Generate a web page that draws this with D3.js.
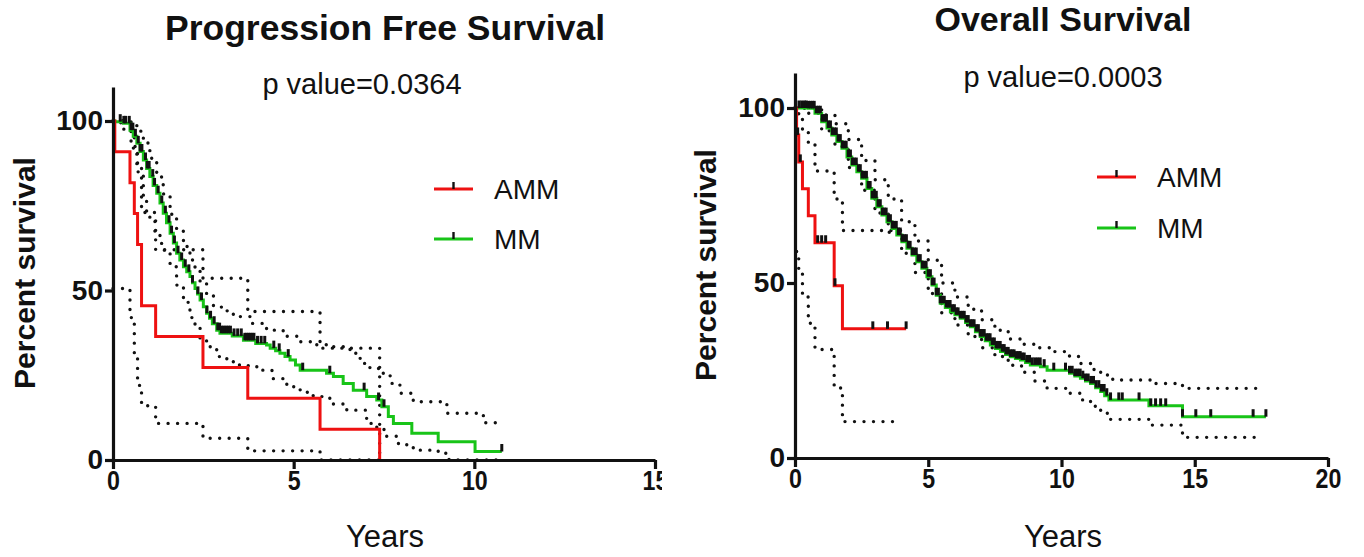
<!DOCTYPE html>
<html><head><meta charset="utf-8">
<script src="https://cdn.jsdelivr.net/npm/d3@7"></script>
<style>body{margin:0;background:#fff}svg{display:block}text{font-family:Arial,"Liberation Sans",Helvetica,sans-serif;fill:#111}</style>
</head><body><svg id="c" width="1364" height="557"></svg>
<script>
// ---------- DATA ----------
const seriesNames = ["AMM", "MM"];
const pfsYearTicks = [0, 5, 10, 15];
const osYearTicks = [0, 5, 10, 15, 20];
const percentTicks = [0, 50, 100];
const pfsTitle = "Progression Free Survival", osTitle = "Overall Survival";
const pfsP = "p value=0.0364", osP = "p value=0.0003";

// Progression free survival: [years, percent]
const pfsAMM = [[0,100],[0.05,90.9],[0.47,81.8],[0.59,72.7],[0.68,63.6],[0.79,45.5],[1.18,36.4],[2.49,27.3],[3.73,18.2],[5.73,9.1],[7.38,0]];
const pfsAMMUpper = [[0,100],[0.05,99.5],[0.47,97],[0.59,92.5],[0.68,86],[0.79,73],[1.18,62],[2.49,53.6],[3.73,43.8],[5.73,33],[7.38,0]];
const pfsAMMLower = [[0,50.6],[0.47,42],[0.59,30],[0.68,22],[0.79,16],[1.18,10.8],[2.49,6.4],[3.73,2.7],[5.73,0],[7.38,0]];
const pfsMM = [[0,100],[0.05,99.8],[0.29,99.3],[0.47,97.3],[0.56,95.5],[0.66,93.4],[0.75,91],[0.84,88.5],[0.93,86],[1.02,83.6],[1.11,81],[1.21,78.7],[1.3,75.8],[1.39,72.8],[1.48,70],[1.58,66.9],[1.67,64],[1.76,61],[1.85,59],[1.95,57],[2.04,55.5],[2.13,54.1],[2.2,52.3],[2.27,50.6],[2.34,49],[2.41,47.2],[2.5,45.2],[2.59,43.3],[2.67,41.8],[2.75,40.2],[2.87,38.3],[2.96,37.4],[3.3,36.6],[3.61,35.3],[3.95,34.4],[4.25,33.9],[4.35,33],[4.5,32.2],[4.62,31.5],[4.76,30.5],[4.9,29.5],[5.05,28],[5.18,26.5],[5.91,25.6],[6.1,24.6],[6.37,22.6],[6.65,20.6],[7.02,18.7],[7.3,17.7],[7.44,15.7],[7.62,12.8],[7.76,10.8],[8.27,7.9],[9.0,5.4],[10.02,2.5],[10.76,2.5]];
const pfsMMUpper = [[0,100],[0.3,100],[0.5,99],[0.66,97],[0.84,93.5],[1.02,89],[1.21,83.5],[1.39,78.5],[1.58,72.5],[1.76,67.5],[1.95,63],[2.13,59],[2.27,56],[2.41,52.5],[2.59,49],[2.78,45.5],[3.0,44],[3.33,42.3],[3.8,40.3],[4.25,38.3],[4.71,36.5],[5.18,34.9],[5.64,34],[6.0,33.4],[6.56,31.5],[6.84,28.5],[7.11,27],[7.39,25.6],[7.67,22.6],[7.94,19.7],[8.31,17.2],[9.24,13.8],[10.25,11],[10.76,11]];
const pfsMMLower = [[0,100],[0.3,97],[0.5,92],[0.66,85],[0.84,76.7],[0.93,73.2],[1.02,70.8],[1.16,66.4],[1.3,63.9],[1.39,61.9],[1.58,57],[1.76,51.6],[1.95,46.5],[2.13,42],[2.27,39],[2.41,36],[2.59,33.4],[2.87,30.5],[3.15,29],[3.5,27.8],[3.98,26.5],[4.4,24],[4.81,21.6],[5.18,20],[5.54,18.7],[6.0,16.5],[6.47,14.7],[7.02,10.8],[7.3,9],[7.57,7],[7.9,4.5],[8.31,2.9],[9.0,2],[9.3,0],[10.76,0]];
const pfsAMMCensor = [];
const pfsMMCensor = [0.2,0.3,0.35,0.45,0.5,0.55,0.62,0.7,0.75,0.8,0.9,0.95,1.0,1.1,1.15,1.25,1.35,1.45,1.55,1.62,1.7,1.8,1.9,2.0,2.1,2.2,2.35,2.45,2.6,2.7,2.8,2.9,2.95,3.0,3.05,3.1,3.15,3.2,3.25,3.35,3.45,3.55,3.65,3.7,3.75,3.8,3.85,3.9,4.0,4.1,4.2,4.45,4.6,4.85,5.25,6.0,6.95,7.35,7.5,10.76];

// Overall survival: [years, percent]
const osAMM = [[0,100],[0.06,92.3],[0.14,84.6],[0.28,76.9],[0.5,69.2],[0.75,61.5],[1.47,49.2],[1.78,36.9],[4.17,36.9]];
const osAMMUpper = [[0,100],[0.06,99.8],[0.14,97.5],[0.28,93.5],[0.5,89.5],[0.75,82],[1.47,74],[1.78,65],[4.17,65]];
const osAMMLower = [[0.06,59],[0.14,53],[0.28,46],[0.5,38.5],[0.75,31],[1.47,20],[1.78,10.4],[3.85,10.4]];
const osMM = [[0,100],[0.5,99.9],[0.75,98.5],[1.0,96.1],[1.2,94.3],[1.38,92.3],[1.57,90.4],[1.76,88.5],[1.95,86],[2.13,83.7],[2.32,81.8],[2.5,79.9],[2.7,77],[2.88,74.2],[3.07,71.8],[3.26,69.4],[3.45,67.5],[3.64,65.6],[3.82,63.7],[4.01,61.8],[4.2,59.9],[4.39,58],[4.57,56.1],[4.76,54.2],[4.95,51.8],[5.14,49.4],[5.3,46.5],[5.45,44.2],[5.64,43],[5.83,41.8],[6.0,40.9],[6.2,39.9],[6.4,38.7],[6.58,37.5],[6.77,36.1],[6.95,34.7],[7.14,33.5],[7.33,32.3],[7.52,31.3],[7.71,30.4],[7.9,29.6],[8.08,28.9],[8.27,28.4],[8.46,28],[8.65,27.3],[8.83,26.6],[9.21,26.1],[9.46,25.1],[10.3,24.2],[10.5,23.4],[10.71,22.8],[10.9,22],[11.09,21.3],[11.28,20.1],[11.47,19],[11.62,17.8],[11.78,16.6],[13.28,14.9],[14.54,11.8],[17.67,11.8]];
const osMMUpper = [[0,100],[0.5,100],[1.0,98],[1.5,95.5],[2.0,91],[2.5,85],[3.0,79.5],[3.5,74],[4.0,67.5],[4.5,62],[5.0,56.5],[5.5,50],[6.0,46],[6.5,42.5],[7.0,39.5],[7.5,36.5],[8.0,34],[8.5,32.5],[9.0,31.5],[9.59,30.4],[10.3,29],[10.71,27],[11.09,25.3],[11.47,23.7],[11.8,22.5],[12.03,22.3],[13.35,21.3],[14.54,19.9],[17.42,19.9]];
const osMMLower = [[0,100],[0.5,98.5],[1.0,93.5],[1.5,89],[2.0,83],[2.5,76.5],[3.0,70],[3.5,64.5],[4.0,58.5],[4.5,53],[5.0,47],[5.5,41.5],[6.0,38],[6.5,34.7],[7.0,31.5],[7.5,29],[8.0,26.5],[8.5,24.5],[9.0,22],[9.46,20],[9.6,19.9],[10.3,18.5],[10.71,16.6],[11.09,14.8],[11.47,12.8],[11.84,11.05],[13.35,9.4],[14.54,5.9],[17.42,5.9]];
const osAMMCensor = [0.1,0.2,0.85,1.0,1.15,1.5,2.92,3.47,4.17];
const osMMCensor = [0.15,0.25,0.35,0.42,0.5,0.58,0.66,0.72,0.8,0.88,0.95,1.02,1.1,1.18,1.25,1.33,1.4,1.48,1.55,1.62,1.7,1.78,1.85,1.92,2.0,2.08,2.15,2.22,2.3,2.38,2.45,2.52,2.6,2.68,2.75,2.82,2.9,2.98,3.05,3.12,3.2,3.28,3.35,3.42,3.5,3.58,3.65,3.72,3.8,3.88,3.95,4.02,4.1,4.18,4.25,4.32,4.4,4.48,4.55,4.62,4.7,4.78,4.85,4.92,5.0,5.08,5.15,5.22,5.3,5.38,5.45,5.52,5.6,5.68,5.75,5.82,5.9,5.98,6.05,6.12,6.2,6.28,6.35,6.42,6.5,6.58,6.65,6.72,6.8,6.88,6.95,7.02,7.1,7.18,7.25,7.32,7.4,7.48,7.55,7.62,7.7,7.78,7.85,7.92,8.0,8.08,8.15,8.22,8.3,8.38,8.45,8.52,8.6,8.7,8.8,8.9,9.0,9.1,9.2,9.35,9.71,10.15,10.3,10.4,10.5,10.6,10.7,10.8,10.9,11.0,11.1,11.2,11.3,11.4,11.5,11.6,11.7,11.84,12.15,12.28,12.91,13.35,13.53,13.72,13.91,14.54,15.04,15.6,17.19,17.67];

// ---------- STYLE / LAYOUT ----------
const RED = "#ee1111", GREEN = "#18c418";
const svg = d3.select("#c");
svg.append("defs").append("clipPath").attr("id","leftclip").append("rect").attr("x",0).attr("y",0).attr("width",662).attr("height",557);

function stepVal(series, t) {
  let v = series[0][1];
  for (const [x, y] of series) { if (x <= t + 1e-9) v = y; else break; }
  return v;
}

function panel(g, o) {
  const x = d3.scaleLinear().domain([0, o.xmax]).range([o.x0, o.x1]);
  const y = d3.scaleLinear().domain([0, 110]).range([o.y0, o.ytop]);
  const line = d3.line().x(d => x(d[0])).y(d => y(d[1])).curve(d3.curveStepAfter);

  // confidence bands (dotted)
  [o.amm.upper, o.amm.lower, o.mm.upper, o.mm.lower].forEach(s => {
    g.append("path").attr("d", line(s)).attr("fill","none").attr("stroke","#111")
      .attr("stroke-width",3.4).attr("stroke-linecap","round").attr("stroke-dasharray","0,9.5");
  });
  // curves
  [[o.mm, GREEN], [o.amm, RED]].forEach(([s, c]) => {
    g.append("path").attr("d", line(s.curve)).attr("fill","none").attr("stroke",c).attr("stroke-width",3);
  });
  // censor ticks
  [o.mm, o.amm].forEach(s => {
    g.selectAll(null).data(s.censor).enter().append("line")
      .attr("x1", t => x(t)).attr("x2", t => x(t))
      .attr("y1", t => y(stepVal(s.curve, t)) - 7.5).attr("y2", t => y(stepVal(s.curve, t)))
      .attr("stroke","#111").attr("stroke-width",3);
  });

  // axes
  const ya = g.append("g").attr("transform", `translate(${o.x0},0)`)
    .call(d3.axisLeft(y).tickValues(percentTicks).tickSize(8).tickSizeOuter(0).tickPadding(2));
  const xa = g.append("g").attr("transform", `translate(0,${o.y0})`)
    .call(d3.axisBottom(x).tickValues(o.xticks).tickSize(9).tickSizeOuter(0).tickPadding(2));
  [ya, xa].forEach(a => {
    a.selectAll("path,line").attr("stroke","#111").attr("stroke-width",3.2);
    a.selectAll("text").attr("font-weight","bold").attr("fill","#111")
      .style("font-family","Arial, 'Liberation Sans', sans-serif");
  });
  ya.selectAll("text").attr("font-size",28);
  xa.selectAll("text").attr("font-size",27).attr("transform","scale(0.86,1)");

  // titles and labels
  g.append("text").attr("x", o.cx).attr("y", o.titleY).attr("text-anchor","middle")
    .attr("font-size",o.titleSize).attr("font-weight","bold").text(o.title);
  g.append("text").attr("x", o.pcx).attr("y", o.pY).attr("text-anchor","middle")
    .attr("font-size",29).text(o.p);
  g.append("text").attr("transform", `translate(${o.ylabX},${o.ylabY}) rotate(-90)`).attr("text-anchor","middle")
    .attr("font-size",30).attr("font-weight","bold").text("Percent survival");
  g.append("text").attr("x", o.cx).attr("y", 547).attr("text-anchor","middle")
    .attr("font-size",31).text("Years");

  // legend
  [[seriesNames[0], RED, o.legY[0]], [seriesNames[1], GREEN, o.legY[1]]].forEach(([n, c, ly]) => {
    g.append("line").attr("x1", o.legX).attr("x2", o.legX + 39).attr("y1", ly).attr("y2", ly)
      .attr("stroke", c).attr("stroke-width", 3);
    g.append("line").attr("x1", o.legX + 19.5).attr("x2", o.legX + 19.5).attr("y1", ly - 7).attr("y2", ly)
      .attr("stroke", "#111").attr("stroke-width", 2.4);
    g.append("text").attr("x", o.legX + 60).attr("y", ly + 10).attr("font-size", 28).text(n);
  });
}

panel(svg.append("g").attr("clip-path","url(#leftclip)"), {
  xmax: 15, x0: 113, x1: 655, y0: 460, ytop: 87.1, xticks: pfsYearTicks,
  amm: {curve: pfsAMM, upper: pfsAMMUpper, lower: pfsAMMLower, censor: pfsAMMCensor},
  mm: {curve: pfsMM, upper: pfsMMUpper, lower: pfsMMLower, censor: pfsMMCensor},
  cx: 385, titleY: 40, titleSize: 35.5, title: pfsTitle, pcx: 362, pY: 94, p: pfsP,
  ylabX: 35, ylabY: 273, legX: 434, legY: [189, 239]
});
panel(svg.append("g"), {
  xmax: 20, x0: 795, x1: 1328, y0: 458, ytop: 73, xticks: osYearTicks,
  amm: {curve: osAMM, upper: osAMMUpper, lower: osAMMLower, censor: osAMMCensor},
  mm: {curve: osMM, upper: osMMUpper, lower: osMMLower, censor: osMMCensor},
  cx: 1063, titleY: 31, titleSize: 34, title: osTitle, pcx: 1063, pY: 87, p: osP,
  ylabX: 716, ylabY: 265, legX: 1097, legY: [177, 228]
});
</script>
</body></html>
